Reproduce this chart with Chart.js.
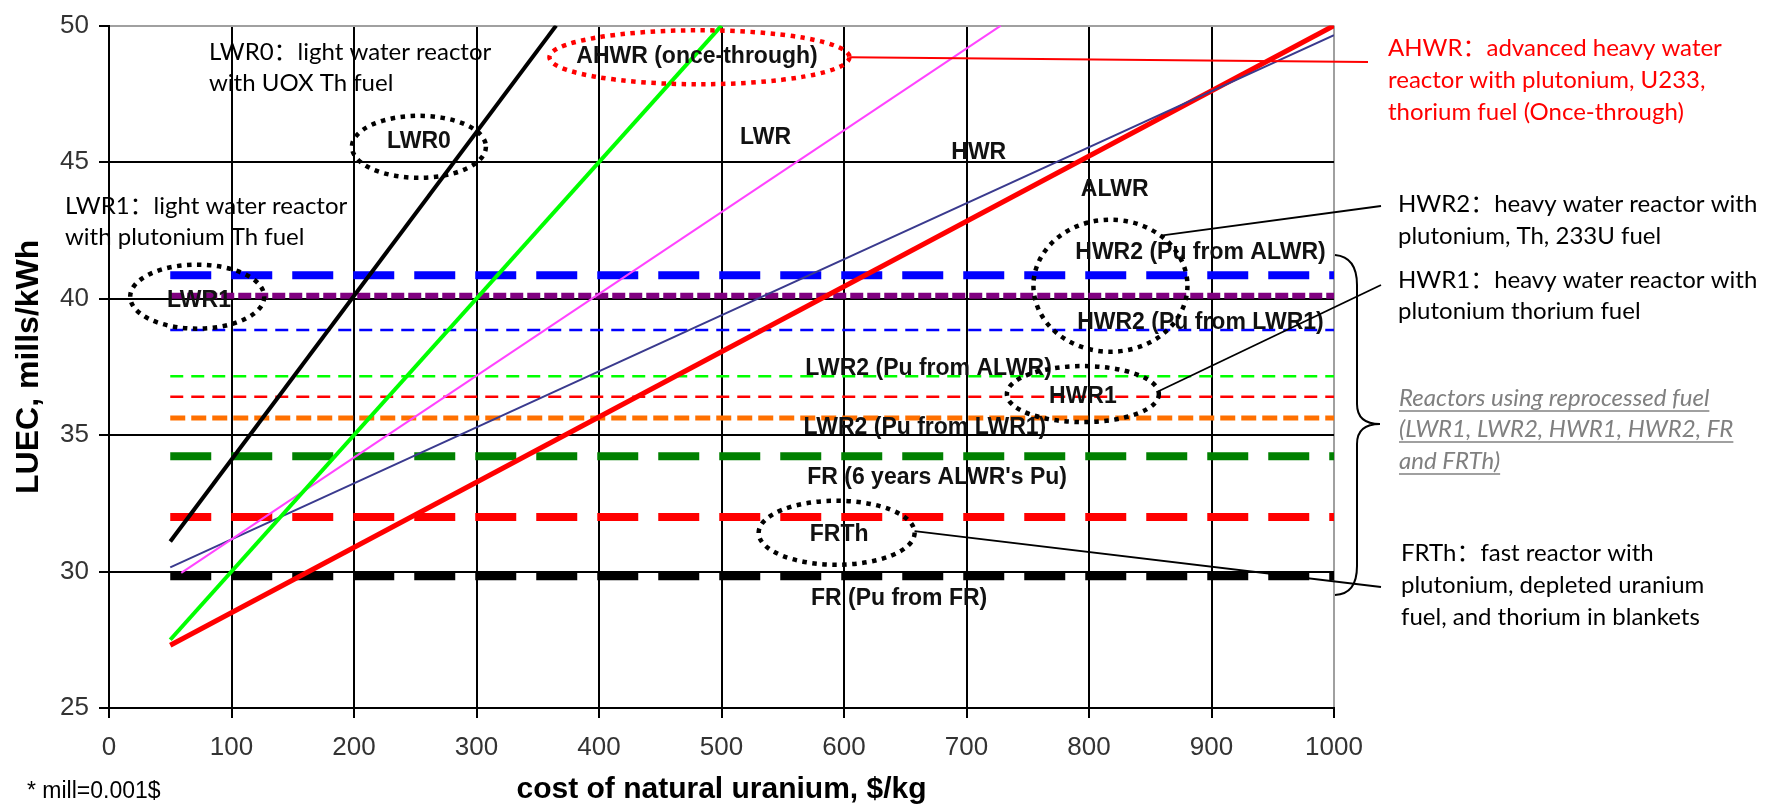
<!DOCTYPE html>
<html>
<head>
<meta charset="utf-8">
<title>LUEC vs cost of natural uranium</title>
<script src="https://cdn.jsdelivr.net/npm/chart.js@4.4.1/dist/chart.umd.min.js"></script>
<style>
    html, body { margin: 0; padding: 0; background: #fff; }
    #wrap { width: 1769px; height: 810px; }
</style>
</head>
<body>
<div id="wrap"><canvas id="luecChart" width="1769" height="810"></canvas></div>
<script>
// Axis ticks
const xTicks = [0, 100, 200, 300, 400, 500, 600, 700, 800, 900, 1000];
const yTicks = [25, 30, 35, 40, 45, 50];

// Once-through reactors: cost rises with uranium price (start / end points)
const lwr0X = [50, 365];
const lwr0Y = [31.1, 50];
const ahwrX = [50, 500];
const ahwrY = [27.5, 50];
const lwrX = [59, 728];
const lwrY = [29.95, 50];
const hwrX = [50, 1000];
const hwrY = [30.15, 49.65];
const alwrX = [50, 1000];
const alwrY = [27.3, 50];

// Reactors using reprocessed fuel: flat cost
const flatNames = ["HWR2 (Pu from ALWR)", "LWR1", "HWR2 (Pu from LWR1)", "LWR2 (Pu from ALWR)",
    "HWR1", "LWR2 (Pu from LWR1)", "FR (6 years ALWR's Pu)", "FRTh", "FR (Pu from FR)"];
const flatLevels = [40.85, 40.1, 38.85, 37.15, 36.4, 35.62, 34.22, 32.0, 29.83];
const flatRange = [50, 1000];

// Line looks for the flat series (same order as flatNames)
const flatStyles = [
    { color: "#0000ff", width: 8, dash: [41, 20] },
    { color: "#800080", width: 6, dash: [13, 4] },
    { color: "#0000ff", width: 2.5, dash: [13, 8] },
    { color: "#00ff00", width: 2.5, dash: [13, 8] },
    { color: "#ff0000", width: 2.5, dash: [13, 8] },
    { color: "#ff7000", width: 5, dash: [15, 6] },
    { color: "#008000", width: 8, dash: [41, 20] },
    { color: "#ff0000", width: 8, dash: [41, 20] },
    { color: "#000000", width: 8, dash: [41, 20] }
];

function pairs(xs, ys) {
    return xs.map((v, i) => ({ x: v, y: ys[i] }));
}

const datasets = [
    { label: "LWR0", data: pairs(lwr0X, lwr0Y), borderColor: "#000000", borderWidth: 4, order: 0 },
    { label: "AHWR (once-through)", data: pairs(ahwrX, ahwrY), borderColor: "#00ff00", borderWidth: 4, order: 0 },
    { label: "LWR", data: pairs(lwrX, lwrY), borderColor: "#ff44ff", borderWidth: 2, order: 0 },
    { label: "HWR", data: pairs(hwrX, hwrY), borderColor: "#3a3a8e", borderWidth: 2, order: 0 },
    { label: "ALWR", data: pairs(alwrX, alwrY), borderColor: "#ff0000", borderWidth: 5, order: 0 }
];

flatNames.forEach((name, i) => {
    const st = flatStyles[i];
    datasets.push({
        label: name,
        data: pairs(flatRange, [flatLevels[i], flatLevels[i]]),
        borderColor: st.color,
        borderWidth: st.width,
        borderDash: st.dash,
        borderCapStyle: "butt",
        order: 1
    });
});

// Labels inside the plot (data coordinates)
const plotLabels = [
    { text: "LWR0", x: 253, y: 45.75 },
    { text: "AHWR (once-through)", x: 480, y: 48.87 },
    { text: "LWR", x: 536, y: 45.9 },
    { text: "HWR", x: 710, y: 45.35 },
    { text: "ALWR", x: 821, y: 44.0 },
    { text: "HWR2 (Pu from ALWR)", x: 891, y: 41.67 },
    { text: "HWR2 (Pu from LWR1)", x: 891, y: 39.1 },
    { text: "LWR2 (Pu from ALWR)", x: 669, y: 37.45 },
    { text: "HWR1", x: 795, y: 36.4 },
    { text: "LWR2 (Pu from LWR1)", x: 666, y: 35.27 },
    { text: "FR (6 years ALWR's Pu)", x: 676, y: 33.45 },
    { text: "FRTh", x: 596, y: 31.35 },
    { text: "FR (Pu from FR)", x: 645, y: 29.0 },
    { text: "LWR1", x: 73.5, y: 39.93 }
];

// Dotted rings around some labels
const rings = [
    { x: 253, y: 45.56, rx: 67, ry: 31, color: "#000" },
    { x: 72, y: 40.07, rx: 67, ry: 32, color: "#000" },
    { x: 482, y: 48.84, rx: 150, ry: 27, color: "#ff0000" },
    { x: 817.5, y: 40.47, rx: 77, ry: 66, color: "#000" },
    { x: 795, y: 36.5, rx: 76, ry: 28, color: "#000" },
    { x: 594, y: 31.42, rx: 78, ry: 32, color: "#000" }
];

const calibri = 'Lato, "Noto Sans CJK SC", sans-serif';

const notesPlugin = {
    id: "notes",
    afterDatasetsDraw(chart) {
        const { ctx, scales } = chart;
        const X = v => scales.x.getPixelForValue(v);
        const Y = v => scales.y.getPixelForValue(v);
        ctx.save();

        // plot labels
        ctx.font = 'bold 23px "Liberation Sans", Arial, sans-serif';
        ctx.fillStyle = "#111";
        ctx.textAlign = "center";
        ctx.textBaseline = "middle";
        plotLabels.forEach(l => ctx.fillText(l.text, X(l.x), Y(l.y)));

        // dotted rings
        ctx.lineWidth = 4.5;
        ctx.setLineDash([4.5, 5.5]);
        rings.forEach(r => {
            ctx.strokeStyle = r.color;
            ctx.beginPath();
            ctx.ellipse(X(r.x), Y(r.y), r.rx, r.ry, 0, 0, Math.PI * 2);
            ctx.stroke();
        });
        ctx.setLineDash([]);

        // connector lines
        const ring = (i, ang) => [X(rings[i].x) + rings[i].rx * Math.cos(ang),
                                  Y(rings[i].y) + rings[i].ry * Math.sin(ang)];
        const links = [
            { from: ring(2, 0), to: [1368, 62], color: "#ff0000" },
            { from: ring(3, -0.86), to: [1381, 206], color: "#000" },
            { from: ring(4, -0.1), to: [1381, 285], color: "#000" },
            { from: ring(5, -0.05), to: [1381, 587], color: "#000" }
        ];
        ctx.lineWidth = 1.8;
        links.forEach(k => {
            ctx.strokeStyle = k.color;
            ctx.beginPath();
            ctx.moveTo(k.from[0], k.from[1]);
            ctx.lineTo(k.to[0], k.to[1]);
            ctx.stroke();
        });

        // brace for the reprocessed-fuel group
        ctx.strokeStyle = "#000";
        ctx.lineWidth = 2;
        ctx.beginPath();
        ctx.moveTo(1335, 255);
        ctx.quadraticCurveTo(1357, 257, 1357, 285);
        ctx.lineTo(1357, 404);
        ctx.quadraticCurveTo(1357, 424, 1380, 424);
        ctx.quadraticCurveTo(1357, 424, 1357, 444);
        ctx.lineTo(1357, 566);
        ctx.quadraticCurveTo(1357, 594, 1335, 595);
        ctx.stroke();

        // explanation texts
        ctx.textAlign = "left";
        ctx.font = "24px " + calibri;
        const block = (lines, x, ys, color) => {
            ctx.fillStyle = color;
            lines.forEach((t, i) => ctx.fillText(t, x, ys[i]));
        };
        block(["LWR0：light water reactor", "with UOX Th fuel"], 209, [52, 83], "#000");
        block(["LWR1：light water reactor", "with plutonium Th fuel"], 65, [206, 237], "#000");
        block(["AHWR：advanced heavy water", "reactor with plutonium, U233,", "thorium fuel (Once-through)"],
            1388, [48, 80, 112], "#ff0000");
        block(["HWR2：heavy water reactor with", "plutonium, Th, 233U fuel"], 1398, [204, 236], "#000");
        block(["HWR1：heavy water reactor with", "plutonium thorium fuel"], 1398, [280, 311], "#000");
        block(["FRTh：fast reactor with", "plutonium, depleted uranium", "fuel, and thorium in blankets"],
            1401, [553, 585, 617], "#000");

        // grey italic underlined note
        ctx.font = "italic 24px " + calibri;
        ctx.fillStyle = "#808080";
        ctx.strokeStyle = "#808080";
        ctx.lineWidth = 1.5;
        const grey = ["Reactors using reprocessed fuel", "(LWR1, LWR2, HWR1, HWR2, FR", "and FRTh)"];
        const greyY = [398, 429, 461];
        grey.forEach((t, i) => {
            ctx.fillText(t, 1399, greyY[i]);
            const w = ctx.measureText(t).width;
            ctx.beginPath();
            ctx.moveTo(1399, greyY[i] + 13);
            ctx.lineTo(1399 + w, greyY[i] + 13);
            ctx.stroke();
        });

        // unit note
        ctx.font = '23px "Liberation Sans", Arial, sans-serif';
        ctx.fillStyle = "#000";
        ctx.fillText("* mill=0.001$", 27, 792);

        ctx.restore();
    }
};

const edgeGrey = "#a0a0a0";

new Chart(document.getElementById("luecChart"), {
    type: "line",
    data: { datasets: datasets },
    options: {
        responsive: false,
        devicePixelRatio: 1,
        animation: false,
        elements: {
            point: { radius: 0 },
            line: { tension: 0 }
        },
        layout: { padding: { top: 20, right: 435, left: 0, bottom: 0 } },
        plugins: {
            legend: { display: false },
            tooltip: { enabled: false }
        },
        scales: {
            x: {
                type: "linear",
                min: 0,
                max: 1000,
                afterBuildTicks: axis => { axis.ticks = xTicks.map(v => ({ value: v })); },
                afterFit: axis => { axis.height = 102; },
                grid: {
                    color: c => (c.tick && c.tick.value === 1000 ? edgeGrey : "#000"),
                    lineWidth: 2,
                    tickLength: 10,
                    tickColor: "#000"
                },
                border: { color: "#000", width: 2 },
                ticks: {
                    padding: 14,
                    color: "#333",
                    callback: value => String(value),
                    font: { family: '"Liberation Sans", Arial, sans-serif', size: 26 }
                },
                title: {
                    display: true,
                    text: "cost of natural uranium, $/kg",
                    color: "#000",
                    font: { family: '"Liberation Sans", Arial, sans-serif', size: 30, weight: "bold" },
                    padding: { top: 0, bottom: 2 }
                }
            },
            y: {
                min: 25,
                max: 50,
                afterBuildTicks: axis => { axis.ticks = yTicks.map(v => ({ value: v })); },
                afterFit: axis => { axis.width = 109; },
                grid: {
                    color: c => (c.tick && c.tick.value === 50 ? edgeGrey : "#000"),
                    lineWidth: 2,
                    tickLength: 10,
                    tickColor: "#000"
                },
                border: { color: "#000", width: 2 },
                ticks: {
                    padding: 10,
                    color: "#333",
                    callback: value => String(value),
                    font: { family: '"Liberation Sans", Arial, sans-serif', size: 26 }
                },
                title: {
                    display: true,
                    text: "LUEC, mills/kWh",
                    color: "#000",
                    font: { family: '"Liberation Sans", Arial, sans-serif', size: 32, weight: "bold" },
                    padding: { top: 10, bottom: 0 }
                }
            }
        }
    },
    plugins: [notesPlugin]
});
</script>
</body>
</html>
